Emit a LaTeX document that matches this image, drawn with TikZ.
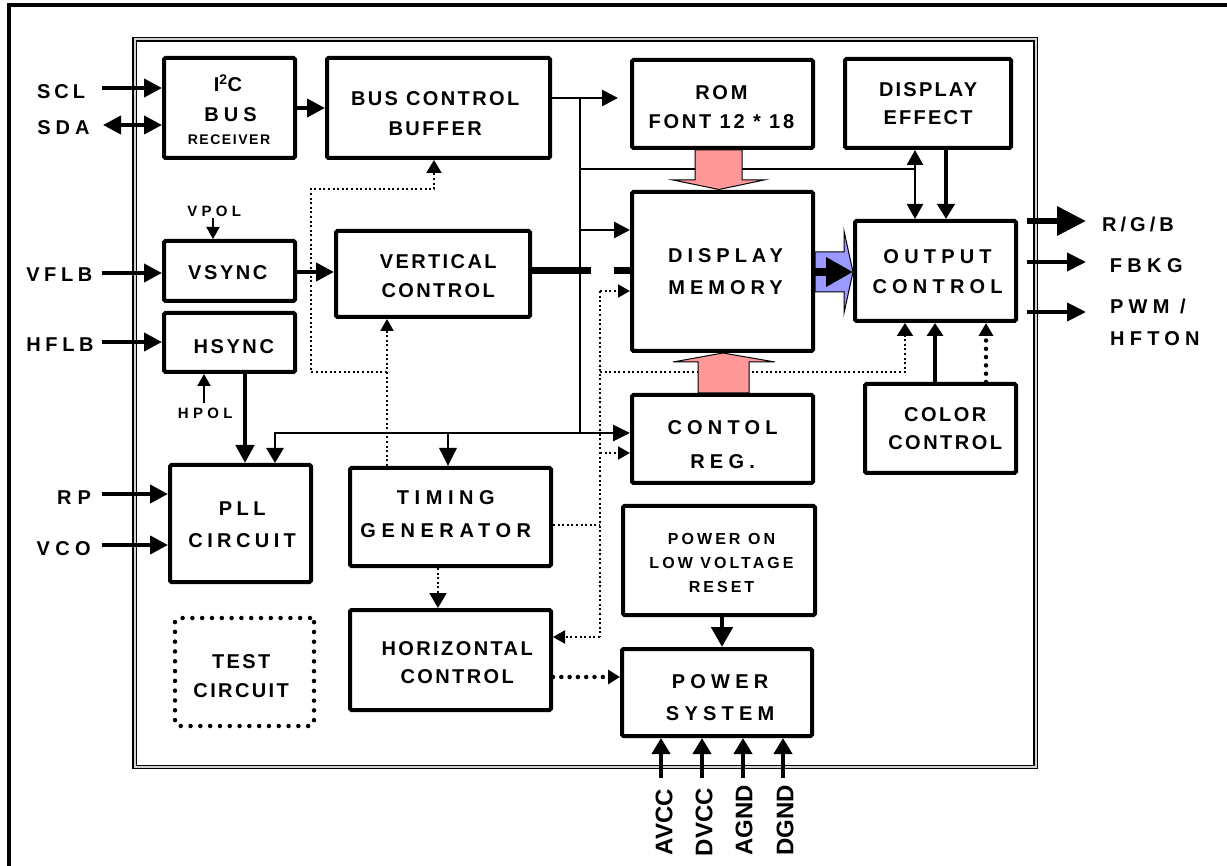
\documentclass[tikz,border=0pt]{standalone}
\usepackage{fontspec}
\setmainfont{Liberation Sans}
\usetikzlibrary{arrows.meta}
\definecolor{lpink}{HTML}{FF9999}
\definecolor{lblue}{HTML}{9999FF}
\begin{document}
\begin{tikzpicture}[x=1pt,y=-1pt,
  box/.style={draw, line width=4pt, rounded corners=1.5pt, inner sep=0pt, fill=white},
  t/.style n args={3}{font=\bfseries\fontsize{#1}{#2}\selectfont\addfontfeatures{LetterSpace=#3}, align=center, inner sep=0pt},
  w2/.style={line width=2pt},
  w3/.style={line width=2.8pt},
  w4/.style={line width=4pt},
  w5/.style={line width=4.8pt},
  tA/.style={-{Triangle[length=18pt,width=18pt]}},
  tAA/.style={{Triangle[length=18pt,width=18pt]}-{Triangle[length=18pt,width=18pt]}},
  tM/.style={-{Triangle[length=16pt,width=16pt]}},
  tMM/.style={{Triangle[length=15pt,width=16pt]}-{Triangle[length=15pt,width=16pt]}},
  tS/.style={-{Triangle[length=12pt,width=13pt]}},
  tL/.style={-{Triangle[length=20pt,width=21pt]}},
  tXL/.style={-{Triangle[length=29pt,width=28pt]}},
  dotf/.style={line width=2pt, dash pattern=on 2pt off 2.6pt},
  dotb/.style={line width=4.5pt, line cap=round, dash pattern=on 0pt off 8.3pt}
]
\useasboundingbox (0,0) rectangle (1227,866);
% frames
\draw[line width=4pt] (9,866) -- (9,5.5) -- (1227,5.5);
\draw[double=gray!35, double distance=2pt, line width=1.3pt] (134.7,39.5) rectangle (1035.5,767);

% boxes
\node[box, minimum width=131pt, minimum height=100pt] (i2c) at (229.5,108) {};
\node[box, minimum width=223pt, minimum height=100pt] (bcb) at (438.5,108) {};
\node[box, minimum width=181pt, minimum height=88pt] (rom) at (722.5,104) {};
\node[box, minimum width=166pt, minimum height=89pt] (deff) at (928,103.5) {};
\node[box, minimum width=181pt, minimum height=159pt] (dmem) at (722.5,271.5) {};
\node[box, minimum width=161pt, minimum height=100pt] (outc) at (935.5,271) {};
\node[box, minimum width=131pt, minimum height=60pt] (vsync) at (229.5,271) {};
\node[box, minimum width=131pt, minimum height=59pt] (hsync) at (229.5,342.5) {};
\node[box, minimum width=194pt, minimum height=86pt] (vctl) at (433,274) {};
\node[box, minimum width=181pt, minimum height=88pt] (creg) at (722.5,439) {};
\node[box, minimum width=151pt, minimum height=89pt] (colc) at (940.5,428.5) {};
\node[box, minimum width=141pt, minimum height=117pt] (pll) at (240.5,523.5) {};
\node[box, minimum width=201pt, minimum height=98pt] (tgen) at (450.5,517) {};
\node[box, minimum width=192pt, minimum height=109pt] (pwron) at (719,560.5) {};
\node[box, minimum width=201pt, minimum height=100pt] (hctl) at (450.5,660) {};
\node[box, minimum width=190pt, minimum height=87pt] (psys) at (717,692.5) {};
\node[draw, line width=4.5pt, line cap=round, dash pattern=on 0pt off 9.8pt, rounded corners=4pt, minimum width=139pt, minimum height=108pt] (test) at (244.5,672) {};

% texts
\node[t={20}{24}{20}] (lscl) at (61,92) {SCL};
\node[t={20}{24}{25}] (lsda) at (63.5,128) {SDA};
\node[t={20}{24}{23}] (lvflb) at (59.3,275) {VFLB};
\node[t={20}{24}{23}] (lhflb) at (60,345) {HFLB};
\node[t={20}{24}{30}] (lrp) at (74,498) {RP};
\node[t={20}{24}{27}] (lvco) at (63.7,549) {VCO};
\node[t={20}{24}{25}] (ti2c) at (228,83) {I\textsuperscript{2}C};
\node[t={20}{24}{25}] (tbus) at (230.5,115) {BUS};
\node[t={14}{16}{11}] (trcv) at (229,140) {RECEIVER};
\node[t={20}{30}{12}] (tbcb) at (435.2,114) {BUS CONTROL\\BUFFER};
\node[t={20}{29}{14}] (trom) at (721.4,107.5) {ROM\\FONT 12 * 18};
\node[t={20}{28}{11}] (tdeff) at (928.1,104) {DISPLAY\\EFFECT};
\node[t={20}{32}{25}] (tdmem) at (725.5,272) {DISPLAY\\MEMORY};
\node[t={20}{30}{26}] (toutc) at (937.6,272) {OUTPUT\\CONTROL};
\node[t={20}{24}{13}] (tvsync) at (227.8,273) {VSYNC};
\node[t={20}{24}{13}] (thsync) at (233.8,346.5) {HSYNC};
\node[t={20}{29}{12}] (tvctl) at (438.2,276.5) {VERTICAL\\CONTROL};
\node[t={20}{34}{26}] (tcreg) at (722.6,445) {CONTOL\\REG.};
\node[t={20}{28}{12.5}] (tcolc) at (945.2,429) {COLOR\\CONTROL};
\node[t={20}{32}{22}] (tpll) at (242.2,525) {PLL\\CIRCUIT};
\node[t={20}{33}{28}] (ttgen) at (445.8,514.5) {TIMING\\GENERATOR};
\node[t={16}{24}{19}] (tpwron) at (721.5,562.5) {POWER ON\\LOW VOLTAGE\\RESET};
\node[t={20}{28}{12}] (thctl) at (457.2,663) {HORIZONTAL\\CONTROL};
\node[t={20}{32}{26}] (tpsys) at (720.1,698) {POWER\\SYSTEM};
\node[t={20}{28.5}{12}] (ttest) at (241.2,676) {TEST\\CIRCUIT};
\node[t={20}{24}{20}] (lrgb) at (1138,224) {R/G/B};
\node[t={20}{24}{27}] (lfbkg) at (1146.2,266) {FBKG};
\node[t={20}{32}{26}, align=left, anchor=west] (lpwm) at (1110,322) {PWM /\\HFTON};
\node[t={15}{18}{29}] (lvpol) at (214.2,211) {VPOL};
\node[t={15}{18}{29}] (lhpol) at (205.2,413) {HPOL};
\node[t={24}{24}{0}, rotate=90] (lavcc) at (664,822) {AVCC};
\node[t={24}{24}{0}, rotate=90] (ldvcc) at (704,822) {DVCC};
\node[t={24}{24}{0}, rotate=90] (lagnd) at (744,820) {AGND};
\node[t={24}{24}{0}, rotate=90] (ldgnd) at (785,820) {DGND};

% input arrows
\coordinate (scl) at (102,88);
\draw[w4,tA] (scl) -- (scl -| i2c.west);
\coordinate (sda) at (103,125);
\draw[w4,tAA] (sda) -- (sda -| i2c.west);
\draw[w4,tA] (i2c.east) -- (bcb.west);
\coordinate (vflb) at (102,273);
\draw[w4,tA] (vflb) -- (vflb -| vsync.west);
\coordinate (hflb) at (102,342);
\draw[w4,tA] (hflb) -- (hflb -| hsync.west);
\coordinate (rp) at (102,494);
\draw[w4,tA] (rp) -- (rp -| pll.west);
\coordinate (vco) at (102,545);
\draw[w4,tA] (vco) -- (vco -| pll.west);
\coordinate (vs) at (300,272);
\draw[w4,tA] (vsync.east |- vs) -- (vs -| vctl.west);
\coordinate (vpolc) at (213,218);
\draw[w2,tS] (vpolc) -- (vpolc |- vsync.north);
\coordinate (hpolc) at (204,403);
\draw[w2,tS] (hpolc) -- (hpolc |- hsync.south);
\coordinate (hp) at (245,400);
\draw[w5,tA] (hsync.south -| hp) -- (pll.north -| hp);

% buses
\coordinate (busL) at (275,433);
\coordinate (busR) at (580,433);
\coordinate (busT) at (580,98);
\draw[w3,{Triangle[length=15pt,width=17pt]}-{Triangle[length=17pt,width=16pt]}] (busL |- pll.north) -- (busL) -- (busL -| creg.west);
\coordinate (tg) at (448,433);
\draw[w3,-{Triangle[length=18pt,width=17pt]}] (tg) -- (tg |- tgen.north);
\draw[w3] (busT) -- (busR);
\draw[w3,tM,shorten >=12pt] (bcb.east |- busT) -- (busT -| rom.west);
\coordinate (dm1) at (580,230);
\draw[w3,tM] (dm1) -- (dm1 -| dmem.west);
\coordinate (de1) at (580,169);
\coordinate (de2) at (915,169);
\draw[line width=2.4pt] (de1) -- (de2);
\draw[line width=2.4pt,tMM] (deff.south -| de2) -- (outc.north -| de2);
\coordinate (de3) at (946,190);
\draw[w4,-{Triangle[length=15pt,width=17pt]}] (deff.south -| de3) -- (outc.north -| de3);
\coordinate (vc1) at (591,271);
\coordinate (vc2) at (614,271);
\draw[line width=7pt] (vctl.east |- vc1) -- (vc1);
\draw[line width=7pt] (vc2) -- (vc2 -| dmem.west);

% dotted timing lines
\coordinate (tv) at (387,372);
\draw[dotf,tS] (tgen.north -| tv) -- (vctl.south -| tv);
\coordinate (tl1) at (311,372);
\coordinate (tl2) at (311,189);
\coordinate (tl3) at (434,189);
\draw[dotf,-{Triangle[length=13pt,width=15pt]}] (tv) -- (tl1) -- (tl2) -- (tl3) -- (tl3 |- bcb.south);
\coordinate (tr) at (600,525);
\draw[dotf] (tgen.east |- tr) -- (tr);
\coordinate (tt) at (600,291);
\coordinate (tb) at (600,637);
\draw[dotf] (tt) -- (tb);
\draw[dotf,tS] (tt) -- (tt -| dmem.west);
\coordinate (tc) at (600,453);
\draw[dotf,tS] (tc) -- (tc -| creg.west);
\coordinate (to1) at (600,372);
\coordinate (to2) at (905,372);
\draw[dotf,-{Triangle[length=13pt,width=16pt]}] (to1) -- (to2) -- (to2 |- outc.south);
\draw[dotf,tS] (tb) -- (tb -| hctl.east);
\coordinate (th) at (438,590);
\draw[dotf,-{Triangle[length=15pt,width=17pt]}] (tgen.south -| th) -- (hctl.north -| th);
\coordinate (hp1) at (580,677);
\draw[dotb,-{Triangle[length=12pt,width=14pt]}] (hctl.east |- hp1) -- (hp1 -| psys.west);
\coordinate (cc1) at (986,350);
\draw[dotb,-{Triangle[length=13pt,width=14pt]}] (colc.north -| cc1) -- (outc.south -| cc1);
\coordinate (cc2) at (935,350);
\draw[w4,-{Triangle[length=13pt,width=16pt]}] (colc.north -| cc2) -- (outc.south -| cc2);

% power
\coordinate (pp) at (722,630);
\draw[w5,tL] (pwron.south -| pp) -- (psys.north -| pp);
\coordinate (pa) at (661,778);
\coordinate (pd) at (702,778);
\coordinate (pg) at (743,778);
\coordinate (pgd) at (783,778);
\draw[w4,-{Triangle[length=16pt,width=18pt]}] (pa) -- (pa |- psys.south);
\draw[w4,-{Triangle[length=16pt,width=18pt]}] (pd) -- (pd |- psys.south);
\draw[w4,-{Triangle[length=16pt,width=18pt]}] (pg) -- (pg |- psys.south);
\draw[w4,-{Triangle[length=16pt,width=18pt]}] (pgd) -- (pgd |- psys.south);

% outputs
\coordinate (rgb) at (1086,221);
\coordinate (fbkg) at (1086,262);
\coordinate (pwm) at (1086,312);
\draw[line width=6.5pt,tXL,shorten <=9pt] (outc.east |- rgb) -- (rgb);
\draw[w4,-{Triangle[length=19pt,width=18pt]},shorten <=9pt] (outc.east |- fbkg) -- (fbkg);
\draw[w4,-{Triangle[length=19pt,width=18pt]},shorten <=9pt] (outc.east |- pwm) -- (pwm);

% block arrows
\draw[fill=lpink, line width=1pt] (695,150) -- (742,150) -- (742,180) -- (764,180) -- (719,189.5) -- (673,180) -- (695,180) -- cycle;
\draw[fill=lpink, line width=1pt] (698,393) -- (698,362) -- (673,362) -- (723,353) -- (775,362) -- (749,362) -- (749,393) -- cycle;
\draw[fill=lblue, line width=1pt] (815,252) -- (844,252) -- (844,231) -- (853,272) -- (844,313) -- (844,292) -- (815,292) -- cycle;
\coordinate (bm) at (830,272);
\draw[line width=8pt,-{Triangle[length=27pt,width=28pt]}] (dmem.east |- bm) -- (outc.west |- bm);
\end{tikzpicture}
\end{document}
